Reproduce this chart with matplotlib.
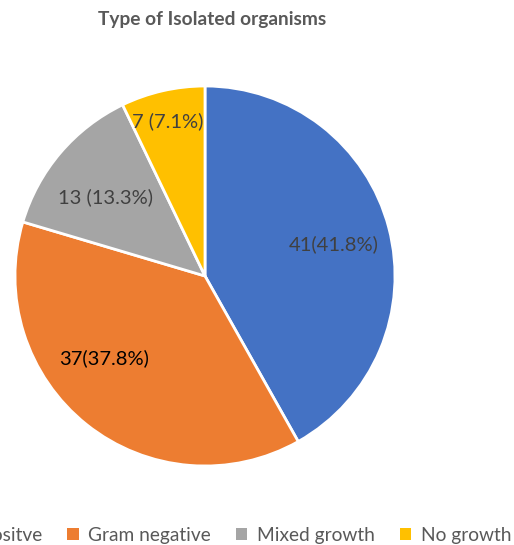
import matplotlib
matplotlib.use("Agg")
import matplotlib.pyplot as plt

plt.rcParams['font.family'] = ['Lato', 'DejaVu Sans']

# data
categories = ['Gram positve', 'Gram negative', 'Mixed growth', 'No growth']
counts = [41, 37, 13, 7]
label_texts = ['41(41.8%)', '37(37.8%)', '13 (13.3%)', '7 (7.1%)']
colors = ['#4472C4', '#ED7D31', '#A5A5A5', '#FFC000']

fig = plt.figure(figsize=(5.14, 5.45), dpi=100)
ax = fig.add_axes([15 / 514, 1 - 466 / 545, 380 / 514, 380 / 545])

wedges, _ = ax.pie(counts, colors=colors, startangle=90, counterclock=False,
                   wedgeprops=dict(edgecolor='white', linewidth=2))
ax.set_xlim(-1, 1)
ax.set_ylim(-1, 1)

# label placement (axes data coords)
label_pos = [(0.68, 0.165), (-0.53, -0.435), (-0.525, 0.415), (-0.195, 0.815)]
label_colors = ['#404040', '#000000', '#404040', '#404040']
for txt, (x, y), c in zip(label_texts, label_pos, label_colors):
    ax.text(x, y, txt, ha='center', va='center', fontsize=14.5, color=c)

fig.text(212 / 514, 1 - 19 / 545, 'Type of Isolated organisms', ha='center', va='center',
         fontsize=13.8, fontweight='bold', color='#595959')

leg = fig.legend(wedges, categories, loc='center', ncol=4,
                 bbox_to_anchor=(210 / 514, 1 - 535 / 545), frameon=False,
                 handlelength=0.6, handleheight=0.6, handletextpad=0.5,
                 columnspacing=1.3, fontsize=13.8, labelcolor='#595959')
for h in leg.legend_handles:
    h.set_edgecolor('none')

fig.savefig('out.png', dpi=100)
